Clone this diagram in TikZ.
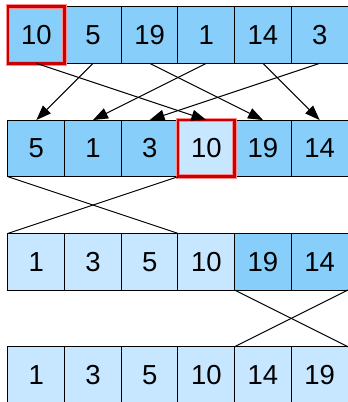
\documentclass[tikz,border=0pt]{standalone}
\usepackage{fontspec}
\setmainfont{Liberation Sans}
\usetikzlibrary{arrows.meta}
\definecolor{darkcell}{HTML}{87CEFA}
\definecolor{lightcell}{HTML}{C6E7FF}
\definecolor{pivotred}{HTML}{C80000}
\begin{document}
\begin{tikzpicture}[
  cell/.style={draw, line width=0.5pt, minimum size=1cm, inner sep=0pt, outer sep=0pt,
    font=\fontsize{13.8}{16}\selectfont},
  dark/.style={cell, fill=darkcell},
  light/.style={cell, fill=lightcell},
  pivot/.style={draw=pivotred, line width=1.3pt, preaction={draw=red!45, line width=2.3pt}},
  move/.style={-{Triangle[length=7.5pt,width=5.5pt]}, line width=0.5pt},
  swap/.style={line width=0.5pt}]
  \useasboundingbox (-0.141,0.118) rectangle (5.983,-6.976);
  % first pass
  \node[dark] (a0) at (0.5,-0.5) {10};
  \node[dark] (a1) at (1.5,-0.5) {5};
  \node[dark] (a2) at (2.5,-0.5) {19};
  \node[dark] (a3) at (3.5,-0.5) {1};
  \node[dark] (a4) at (4.5,-0.5) {14};
  \node[dark] (a5) at (5.5,-0.5) {3};
  \draw[pivot] (a0.south west) rectangle (a0.north east);
  % after partition
  \node[dark] (b0) at (0.5,-2.5) {5};
  \node[dark] (b1) at (1.5,-2.5) {1};
  \node[dark] (b2) at (2.5,-2.5) {3};
  \node[light] (b3) at (3.5,-2.5) {10};
  \node[dark] (b4) at (4.5,-2.5) {19};
  \node[dark] (b5) at (5.5,-2.5) {14};
  \draw[pivot] (b3.south west) rectangle (b3.north east);
  % left part sorted
  \node[light] (c0) at (0.5,-4.5) {1};
  \node[light] (c1) at (1.5,-4.5) {3};
  \node[light] (c2) at (2.5,-4.5) {5};
  \node[light] (c3) at (3.5,-4.5) {10};
  \node[dark] (c4) at (4.5,-4.5) {19};
  \node[dark] (c5) at (5.5,-4.5) {14};
  % right part sorted
  \node[light] (d0) at (0.5,-6.5) {1};
  \node[light] (d1) at (1.5,-6.5) {3};
  \node[light] (d2) at (2.5,-6.5) {5};
  \node[light] (d3) at (3.5,-6.5) {10};
  \node[light] (d4) at (4.5,-6.5) {14};
  \node[light] (d5) at (5.5,-6.5) {19};
  \draw[move] (a0.south) -- (b3.north);
  \draw[move] (a1.south) -- (b0.north);
  \draw[move] (a2.south) -- (b4.north);
  \draw[move] (a3.south) -- (b1.north);
  \draw[move] (a4.south) -- (b5.north);
  \draw[move] (a5.south) -- (b2.north);
  \draw[swap] (b0.south west) -- (c2.north east);
  \draw[swap] (b2.south east) -- (c0.north west);
  \draw[swap] (c4.south west) -- (d5.north east);
  \draw[swap] (c5.south east) -- (d4.north west);
\end{tikzpicture}
\end{document}
